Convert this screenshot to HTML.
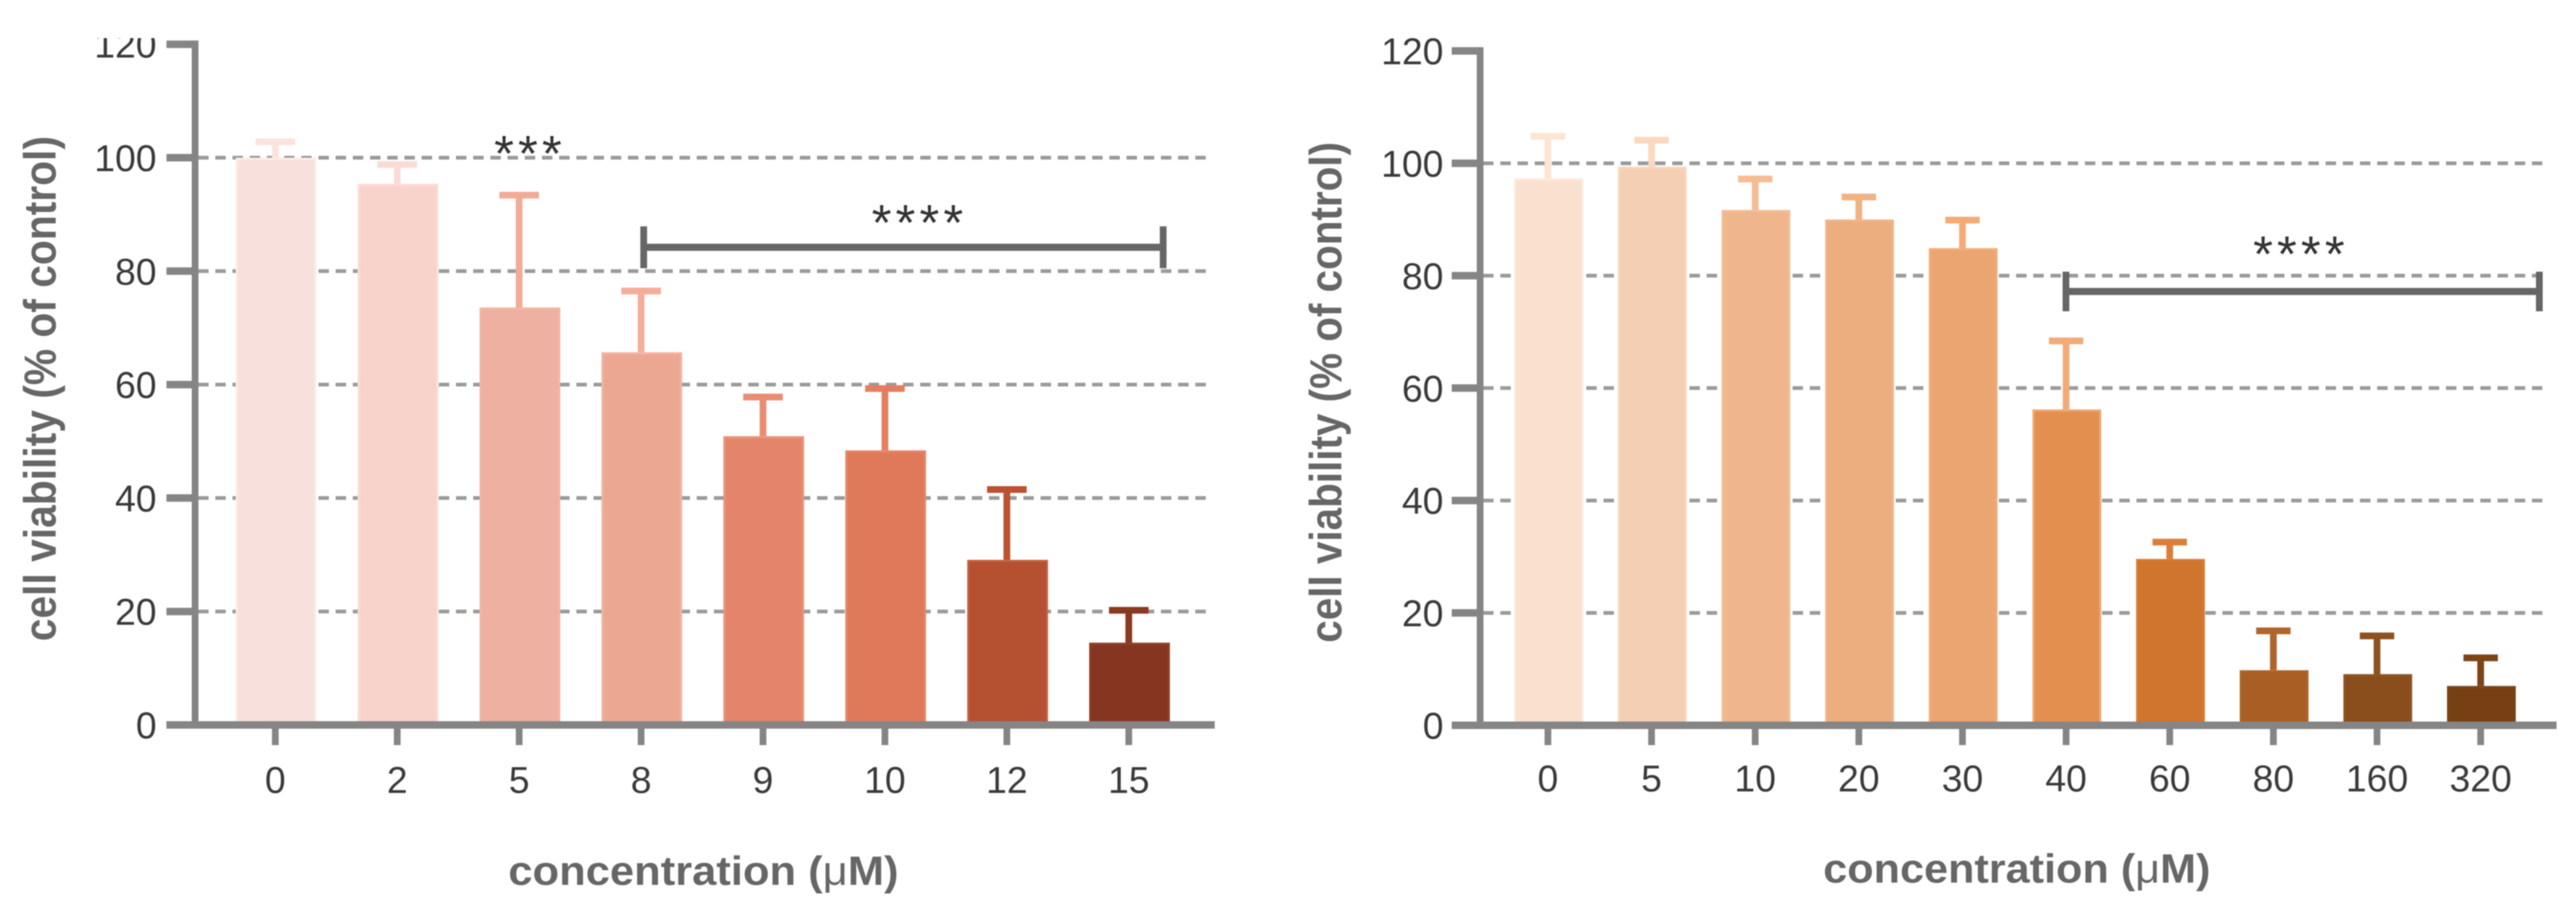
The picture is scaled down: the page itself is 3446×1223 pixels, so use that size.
<!DOCTYPE html>
<html lang="en">
<head>
<meta charset="utf-8">
<title>Cell viability bar charts</title>
<style>
html,body{margin:0;padding:0;background:#fff;}
body{width:3446px;height:1223px;overflow:hidden;}
svg{display:block;font-family:"Liberation Sans",sans-serif;filter:blur(0.7px);}
</style>
</head>
<body>
<svg id="figure" xmlns="http://www.w3.org/2000/svg" width="3446" height="1223" viewBox="0 0 3446 1223">
  <defs>
    <clipPath id="clip-a"><rect x="0" y="51" width="1700" height="1172"></rect></clipPath>
  </defs>
  <rect x="0" y="0" width="3446" height="1223" fill="#ffffff"></rect>
  <g id="panel-a"></g>
  <g id="panel-b"></g>

  <text transform="translate(74.6,520) rotate(-90)" text-anchor="middle" font-size="60" font-weight="700" fill="#666666" textLength="676" lengthAdjust="spacingAndGlyphs">cell viability (% of control)</text>
  <text x="941" y="1184" text-anchor="middle" font-size="55" font-weight="700" fill="#666666" textLength="522" lengthAdjust="spacingAndGlyphs">concentration (<tspan font-weight="400">μ</tspan>M)</text>
  <text x="709" y="228.5" text-anchor="middle" font-size="68" letter-spacing="5.5" fill="#333333">***</text>
  <text x="1230" y="321" text-anchor="middle" font-size="68" letter-spacing="5.5" fill="#333333">****</text>

  <text transform="translate(1794.7,525) rotate(-90)" text-anchor="middle" font-size="60" font-weight="700" fill="#666666" textLength="670" lengthAdjust="spacingAndGlyphs">cell viability (% of control)</text>
  <text x="2698" y="1181" text-anchor="middle" font-size="55" font-weight="700" fill="#666666" textLength="518" lengthAdjust="spacingAndGlyphs">concentration (<tspan font-weight="400">μ</tspan>M)</text>
  <text x="3078" y="363" text-anchor="middle" font-size="68" letter-spacing="5.5" fill="#333333">****</text>
</svg>

<script>
// Shared y-axis ticks
const yTickValues = [0, 20, 40, 60, 80, 100, 120];
const gridValues = [20, 40, 60, 80, 100];

// Panel A data
const categoriesA = ["0", "2", "5", "8", "9", "10", "12", "15"];
const meansA = [100, 95.4, 73.6, 65.7, 50.9, 48.4, 29.1, 14.5];
const errorTopsA = [102.8, 98.8, 93.4, 76.5, 57.8, 59.3, 41.5, 20.2];
const bracketSpanA = [3, 7];
const bracketValueA = 84.2;

// Panel A palette
const fillsA = ["#f8e1dc", "#f7d3cb", "#eeb0a0", "#eca793", "#e3856a", "#e0785a", "#b55030", "#863520"];
const edgesA = ["#fdeae6", "#fbdcd5", "#f3b5a4", "#f3b3a0", "#ec9177", "#e78468", "#c25f40", "#8f3f28"];
const errorsA = ["#fbe3dd", "#fbdcd4", "#f3ab98", "#f5ad9a", "#e98d72", "#e57e60", "#bb5230", "#8a3a20"];

// Panel B data
const categoriesB = ["0", "5", "10", "20", "30", "40", "60", "80", "160", "320"];
const meansB = [97.3, 99.4, 91.7, 90, 84.9, 56.2, 29.6, 9.8, 9.1, 7.0];
const errorTopsB = [104.8, 104.1, 97.2, 94, 89.9, 68.4, 32.6, 16.8, 15.9, 12.0];
const bracketSpanB = [5, 9];
const bracketValueB = 77.2;

// Panel B palette
const fillsB = ["#f9e0cf", "#f4cfb4", "#efb58c", "#ecae7f", "#eaa570", "#e28f4f", "#d0752d", "#a95f23", "#8a4e1c", "#764013"];
const edgesB = ["#fde8da", "#f8d7bf", "#f4bd95", "#f2b589", "#f1ad79", "#efa66e", "#d57c36", "#ad6428", "#8f5321", "#7b4518"];
const errorsB = ["#fde4d3", "#fbd8bf", "#f6bd94", "#f3b282", "#f3ac78", "#f2ab78", "#d97f3a", "#b0642a", "#8e5220", "#7c4416"];

const SVG_NS = "http://www.w3.org/2000/svg";
const AXIS_COLOR = "#858585";
const GRID_COLOR = "#9a9a9a";
const BRACKET_COLOR = "#666666";
const LABEL_COLOR = "#3a3a3a";

function make(parent, tag, attrs) {
  const el = document.createElementNS(SVG_NS, tag);
  for (const key in attrs) el.setAttribute(key, attrs[key]);
  parent.appendChild(el);
  return el;
}

function drawPanel(root, prefix, categories, means, errorTops, fills, edges, errors, bracketSpan, bracketValue, layout) {
  const xScale = function (i) { return layout.firstCenter + i * layout.step; };
  const yScale = function (v) { return layout.yZero - v * layout.yUnit; };

  gridValues.forEach(function (v) {
    const grid = make(root, "line", { x1: layout.axisX + 4, x2: layout.gridEnd, y1: yScale(v), y2: yScale(v), stroke: GRID_COLOR, "stroke-width": 5, "stroke-dasharray": "14 9" });
    
    
  });

  categories.forEach(function (cat, i) {
    const cx = xScale(i);
    const top = yScale(means[i]);
    const bar = make(root, "rect", { x: cx - layout.barWidth / 2 + 1.5, y: top + 1.5, width: layout.barWidth - 3, height: layout.yZero - top - 1.5, fill: fills[i], stroke: edges[i], "stroke-width": 3 });
    
    

    const capY = yScale(errorTops[i]);
    const stem = make(root, "line", { x1: cx - 1, x2: cx - 1, y1: top, y2: capY, stroke: errors[i], "stroke-width": 9 });
    
    

    const cap = make(root, "line", { x1: cx - 1 - layout.capWidth / 2, x2: cx - 1 + layout.capWidth / 2, y1: capY, y2: capY, stroke: errors[i], "stroke-width": 9 });
    
    

    const tick = make(root, "line", { x1: cx - 1, x2: cx - 1, y1: layout.yZero, y2: layout.tickBottom, stroke: AXIS_COLOR, "stroke-width": 9 });
    
    

    const label = make(root, "text", { x: cx - 1, y: layout.xLabelBase, "text-anchor": "middle", "font-size": 50, fill: LABEL_COLOR });
    label.textContent = cat;
    
    
  });

  const xAxis = make(root, "line", { x1: layout.tickLeft, x2: layout.axisEnd, y1: layout.yZero, y2: layout.yZero, stroke: AXIS_COLOR, "stroke-width": 10 });
  
  

  const yAxis = make(root, "line", { x1: layout.axisX, x2: layout.axisX, y1: yScale(120) - 5, y2: layout.yZero + 5, stroke: AXIS_COLOR, "stroke-width": 9 });
  
  

  yTickValues.forEach(function (v) {
    const tick = make(root, "line", { x1: layout.tickLeft, x2: layout.axisX, y1: yScale(v), y2: yScale(v), stroke: AXIS_COLOR, "stroke-width": 10 });
    
    

    const label = make(root, "text", { x: layout.yLabelRight, y: yScale(v) + 18, "text-anchor": "end", "font-size": 50, fill: LABEL_COLOR });
    label.textContent = String(v);
    if (layout.labelClip) label.setAttribute("clip-path", layout.labelClip);
    
    
  });

  const bx1 = xScale(bracketSpan[0]) + layout.bracketOffsetLeft;
  const bx2 = xScale(bracketSpan[1]) + layout.bracketOffsetRight;
  const by = yScale(bracketValue);
  const span = make(root, "line", { x1: bx1, x2: bx2, y1: by, y2: by, stroke: BRACKET_COLOR, "stroke-width": 9.5 });
  
  

  const endLeft = make(root, "line", { x1: bx1, x2: bx1, y1: by - layout.bracketHalf, y2: by + layout.bracketHalf, stroke: BRACKET_COLOR, "stroke-width": 9 });
  
  

  const endRight = make(root, "line", { x1: bx2, x2: bx2, y1: by - layout.bracketHalf, y2: by + layout.bracketHalf, stroke: BRACKET_COLOR, "stroke-width": 9 });
  
  
}

drawPanel(document.getElementById("panel-a"), "panel-a", categoriesA, meansA, errorTopsA, fillsA, edgesA, errorsA, bracketSpanA, bracketValueA, {
  firstCenter: 369.3, step: 163.1, barWidth: 108, capWidth: 53,
  yZero: 970, yUnit: 7.59, axisX: 261, tickLeft: 222.7, axisEnd: 1625, gridEnd: 1613,
  tickBottom: 997, xLabelBase: 1061, yLabelRight: 209.5, labelClip: "url(#clip-a)",
  bracketOffsetLeft: 2.5, bracketOffsetRight: 45, bracketHalf: 28
});

drawPanel(document.getElementById("panel-b"), "panel-b", categoriesB, meansB, errorTopsB, fillsB, edgesB, errorsB, bracketSpanB, bracketValueB, {
  firstCenter: 2071.7, step: 138.64, barWidth: 92, capWidth: 46,
  yZero: 970.5, yUnit: 7.52, axisX: 1980, tickLeft: 1942, axisEnd: 3420, gridEnd: 3408,
  tickBottom: 997, xLabelBase: 1059, yLabelRight: 1931, labelClip: "",
  bracketOffsetLeft: -1.2, bracketOffsetRight: 77.5, bracketHalf: 26.5
});
</script>
</body>
</html>
